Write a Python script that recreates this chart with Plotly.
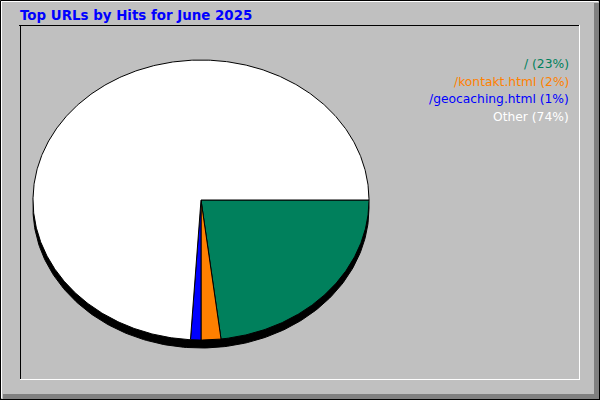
import numpy as np
import plotly.graph_objects as go

# ---- data ----
title = "Top URLs by Hits for June 2025"
urls = ["/", "/kontakt.html", "/geocaching.html", "Other"]
percents = [23.1, 1.9, 1.0, 74.0]
colors = ["#00805C", "#FF8000", "#0000FF", "#FFFFFF"]

W, H = 600, 400
cx, cy, rx, ry = 201, 200, 168, 140
shadow = 8

fig = go.Figure()

# shadow
t = np.linspace(0, 2 * np.pi, 361)
fig.add_trace(go.Scatter(x=cx + rx * np.cos(t), y=cy + shadow + ry * np.sin(t),
                         mode="lines", fill="toself", fillcolor="black",
                         line=dict(color="black", width=1), hoverinfo="skip",
                         showlegend=False))

# slices
start = 0.0
total = sum(percents)
for name, p, c in zip(urls, percents, colors):
    a0 = start / total * 2 * np.pi
    a1 = (start + p) / total * 2 * np.pi
    n = max(int((a1 - a0) / (2 * np.pi) * 720), 3)
    tt = np.linspace(a0, a1, n)
    xs = np.concatenate([[cx], cx + rx * np.cos(tt), [cx]])
    ys = np.concatenate([[cy], cy + ry * np.sin(tt), [cy]])
    fig.add_trace(go.Scatter(x=xs, y=ys, mode="lines", fill="toself",
                             fillcolor=c, line=dict(color="black", width=1),
                             hoverinfo="skip", showlegend=False))
    start += p

shapes = [
    # outer bevel
    dict(type="rect", x0=0.5, y0=0.5, x1=599.5, y1=399.5, line=dict(color="black", width=1)),
    dict(type="line", x0=1, y0=1.5, x1=598, y1=1.5, line=dict(color="white", width=1)),
    dict(type="line", x0=1.5, y0=1, x1=1.5, y1=398, line=dict(color="white", width=1)),
    dict(type="path", path="M 3,394 L 594,394 L 594,3 L 599,3 L 599,399 L 3,399 Z",
         fillcolor="#808080", line=dict(width=0)),
    dict(type="line", x0=599.5, y0=0, x1=599.5, y1=400, line=dict(color="black", width=1)),
    dict(type="line", x0=0, y0=399.5, x1=600, y1=399.5, line=dict(color="black", width=1)),
    # inner frame
    dict(type="line", x0=19, y0=25.5, x1=580, y1=25.5, line=dict(color="black", width=1)),
    dict(type="line", x0=20.5, y0=25, x1=20.5, y1=380, line=dict(color="black", width=1)),
    dict(type="line", x0=20, y0=379.5, x1=580, y1=379.5, line=dict(color="white", width=1)),
    dict(type="line", x0=579.5, y0=25, x1=579.5, y1=380, line=dict(color="white", width=1)),
]
for s in shapes:
    s.update(xref="x", yref="y", layer="below")

annotations = [dict(x=18, y=15, xref="x", yref="y", text="<b>%s</b>" % title,
                    showarrow=False, xanchor="left", yanchor="middle",
                    font=dict(family="DejaVu Sans", size=13.4, color="#0000FF"))]
for i, (name, p, c) in enumerate(zip(urls, percents, colors)):
    annotations.append(dict(x=571, y=64 + i * 17.7, xref="x", yref="y",
                            text="%s (%d%%)" % (name, round(p)), showarrow=False,
                            xanchor="right", yanchor="middle",
                            font=dict(family="DejaVu Sans", size=12.3, color=c)))

fig.update_layout(
    width=W, height=H, autosize=False,
    margin=dict(l=0, r=0, t=0, b=0, pad=0),
    paper_bgcolor="#C0C0C0", plot_bgcolor="#C0C0C0",
    xaxis=dict(range=[0, W], visible=False, fixedrange=True, domain=[0, 1]),
    yaxis=dict(range=[H, 0], visible=False, fixedrange=True, domain=[0, 1]),
    shapes=shapes, annotations=annotations, showlegend=False,
)

fig.write_html("out.html", config={"displayModeBar": False, "staticPlot": True},
               post_script="document.body.style.margin='0px';")
